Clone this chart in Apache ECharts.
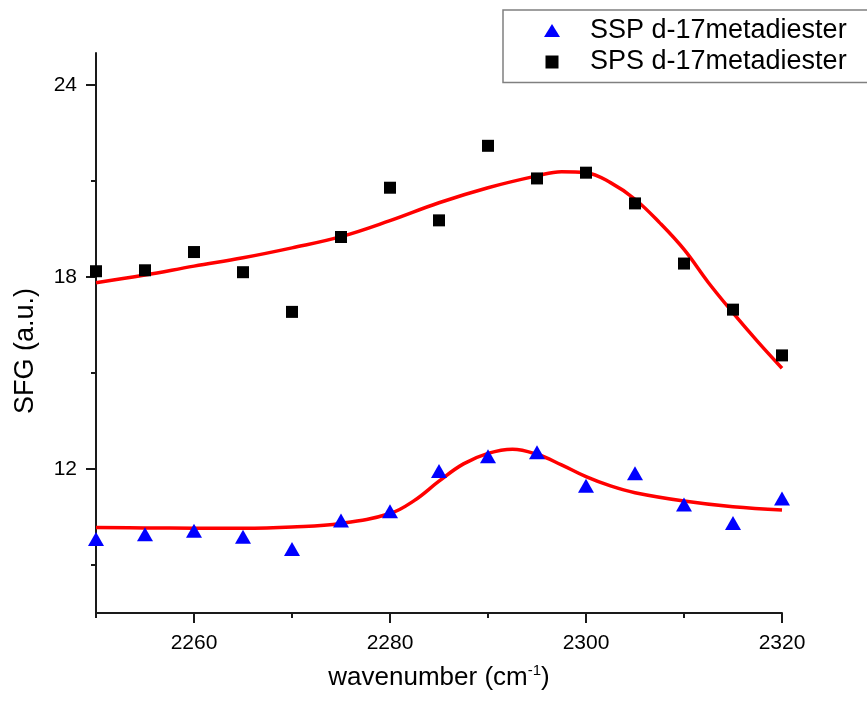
<!DOCTYPE html>
<html><head><meta charset="utf-8">
<script src="https://cdn.jsdelivr.net/npm/echarts@6/dist/echarts.min.js"></script>
<style>html,body{margin:0;padding:0;background:#fff}#c{width:867px;height:703px}</style>
</head><body><div id="c"></div>
<script>
const wavenumbers = [2250,2255,2260,2265,2270,2275,2280,2285,2290,2295,2300,2305,2310,2315,2320];
const sspValues = [9.81,9.96,10.07,9.88,9.50,10.39,10.68,11.94,12.40,12.52,11.48,11.87,10.89,10.31,11.08];
const spsValues = [18.18,18.21,18.78,18.15,16.91,19.25,20.79,19.77,22.10,21.08,21.26,20.30,18.42,16.98,15.55];
const sspFitX = [2250,2255,2260,2265,2270,2275,2280,2282.5,2285,2287.5,2290,2292.5,2295,2297.5,2300,2302.5,2305,2310,2315,2320];
const sspFitY = [10.17,10.16,10.15,10.15,10.19,10.30,10.61,11.02,11.62,12.16,12.49,12.62,12.46,12.13,11.76,11.47,11.26,11.00,10.82,10.72];
const spsFitX = [2250,2255,2260,2265,2270,2275,2280,2285,2290,2295,2297.5,2300,2302.5,2305,2307.5,2310,2312.5,2315,2317.5,2320];
const spsFitY = [17.82,18.06,18.34,18.60,18.91,19.26,19.76,20.32,20.79,21.16,21.29,21.26,20.95,20.43,19.70,18.86,17.82,16.88,15.99,15.15];
const xMajorTicks = [2260,2280,2300,2320];
const xMinorTicks = [2250,2270,2290,2310];
const yMajorTicks = [12,18,24];
const yMinorTicks = [9,15,21];
const sspName = 'SSP d-17metadiester';
const spsName = 'SPS d-17metadiester';
const xTitle = 'wavenumber (cm{sup|-1})';
const yTitle = 'SFG (a.u.)';

const FONT = "'Liberation Sans', Arial, sans-serif";
const zip = (a, b) => a.map((v, i) => [v, b[i]]);
const gridPos = {left: 96, right: 85, top: 53, bottom: 90};
const axisCol = '#1a1a1a';
const plain = v => String(v);

const chart = echarts.init(document.getElementById('c'));
chart.setOption({
  animation: false,
  backgroundColor: '#fff',
  textStyle: {fontFamily: FONT},
  grid: [Object.assign({}, gridPos), Object.assign({}, gridPos)],
  legend: {
    orient: 'vertical', left: 503, top: 10,
    padding: [5, 22, 5, 41],
    borderColor: '#808080', borderWidth: 1.5,
    itemWidth: 16, itemHeight: 13, itemGap: 0.5,
    textStyle: {fontSize: 27, lineHeight: 31, color: '#000', fontFamily: FONT, padding: [0, 0, 0, 25]},
    data: [
      {name: sspName, icon: 'triangle'},
      {name: spsName, icon: 'path://M0,0L10,0L10,10L0,10Z'}
    ]
  },
  xAxis: [{
    type: 'value', gridIndex: 0, min: 2250, max: 2320,
    name: xTitle, nameLocation: 'middle', nameGap: 50,
    nameTextStyle: {fontSize: 26, color: '#000', fontFamily: FONT, lineHeight: 30,
      rich: {sup: {fontSize: 15, verticalAlign: 'top', lineHeight: 30, color: '#000', fontFamily: FONT}}},
    splitLine: {show: false},
    axisLine: {lineStyle: {color: axisCol, width: 2}},
    axisTick: {customValues: xMajorTicks, length: 10, lineStyle: {color: axisCol, width: 2}},
    axisLabel: {customValues: xMajorTicks, formatter: plain, fontSize: 21, color: '#000', margin: 20, fontFamily: FONT}
  }, {
    type: 'value', gridIndex: 1, min: 2250, max: 2320, position: 'bottom',
    splitLine: {show: false}, axisLine: {show: false},
    axisTick: {customValues: xMinorTicks, length: 5, lineStyle: {color: axisCol, width: 2}},
    axisLabel: {show: false}
  }],
  yAxis: [{
    type: 'value', gridIndex: 0, min: 7.5, max: 25,
    name: yTitle, nameLocation: 'middle', nameGap: 57, nameRotate: 90,
    nameTextStyle: {fontSize: 27, color: '#000', fontFamily: FONT, padding: [0, 36, 0, 0]},
    splitLine: {show: false},
    axisLine: {lineStyle: {color: axisCol, width: 2}},
    axisTick: {customValues: yMajorTicks, length: 10, lineStyle: {color: axisCol, width: 2}},
    axisLabel: {customValues: yMajorTicks, formatter: plain, fontSize: 21, color: '#000', margin: 19, fontFamily: FONT}
  }, {
    type: 'value', gridIndex: 1, min: 7.5, max: 25, position: 'left',
    splitLine: {show: false}, axisLine: {show: false},
    axisTick: {customValues: yMinorTicks, length: 5, lineStyle: {color: axisCol, width: 2}},
    axisLabel: {show: false}
  }],
  series: [{
    name: 'SPS fit', type: 'line', xAxisIndex: 0, yAxisIndex: 0,
    data: zip(spsFitX, spsFitY), smooth: 0.4, showSymbol: false, symbol: 'none',
    lineStyle: {color: '#ff0000', width: 3.5}, z: 2
  }, {
    name: 'SSP fit', type: 'line', xAxisIndex: 0, yAxisIndex: 0,
    data: zip(sspFitX, sspFitY), smooth: 0.4, showSymbol: false, symbol: 'none',
    lineStyle: {color: '#ff0000', width: 3.5}, z: 2
  }, {
    name: sspName, type: 'scatter', xAxisIndex: 0, yAxisIndex: 0,
    data: zip(wavenumbers, sspValues), symbol: 'triangle', symbolSize: [16, 14],
    itemStyle: {color: '#0000ff', opacity: 1}, clip: true, z: 3
  }, {
    name: spsName, type: 'scatter', xAxisIndex: 0, yAxisIndex: 0,
    data: zip(wavenumbers, spsValues), symbol: 'rect', symbolSize: 12,
    itemStyle: {color: '#000', opacity: 1}, clip: true, z: 3
  }]
});
</script></body></html>
